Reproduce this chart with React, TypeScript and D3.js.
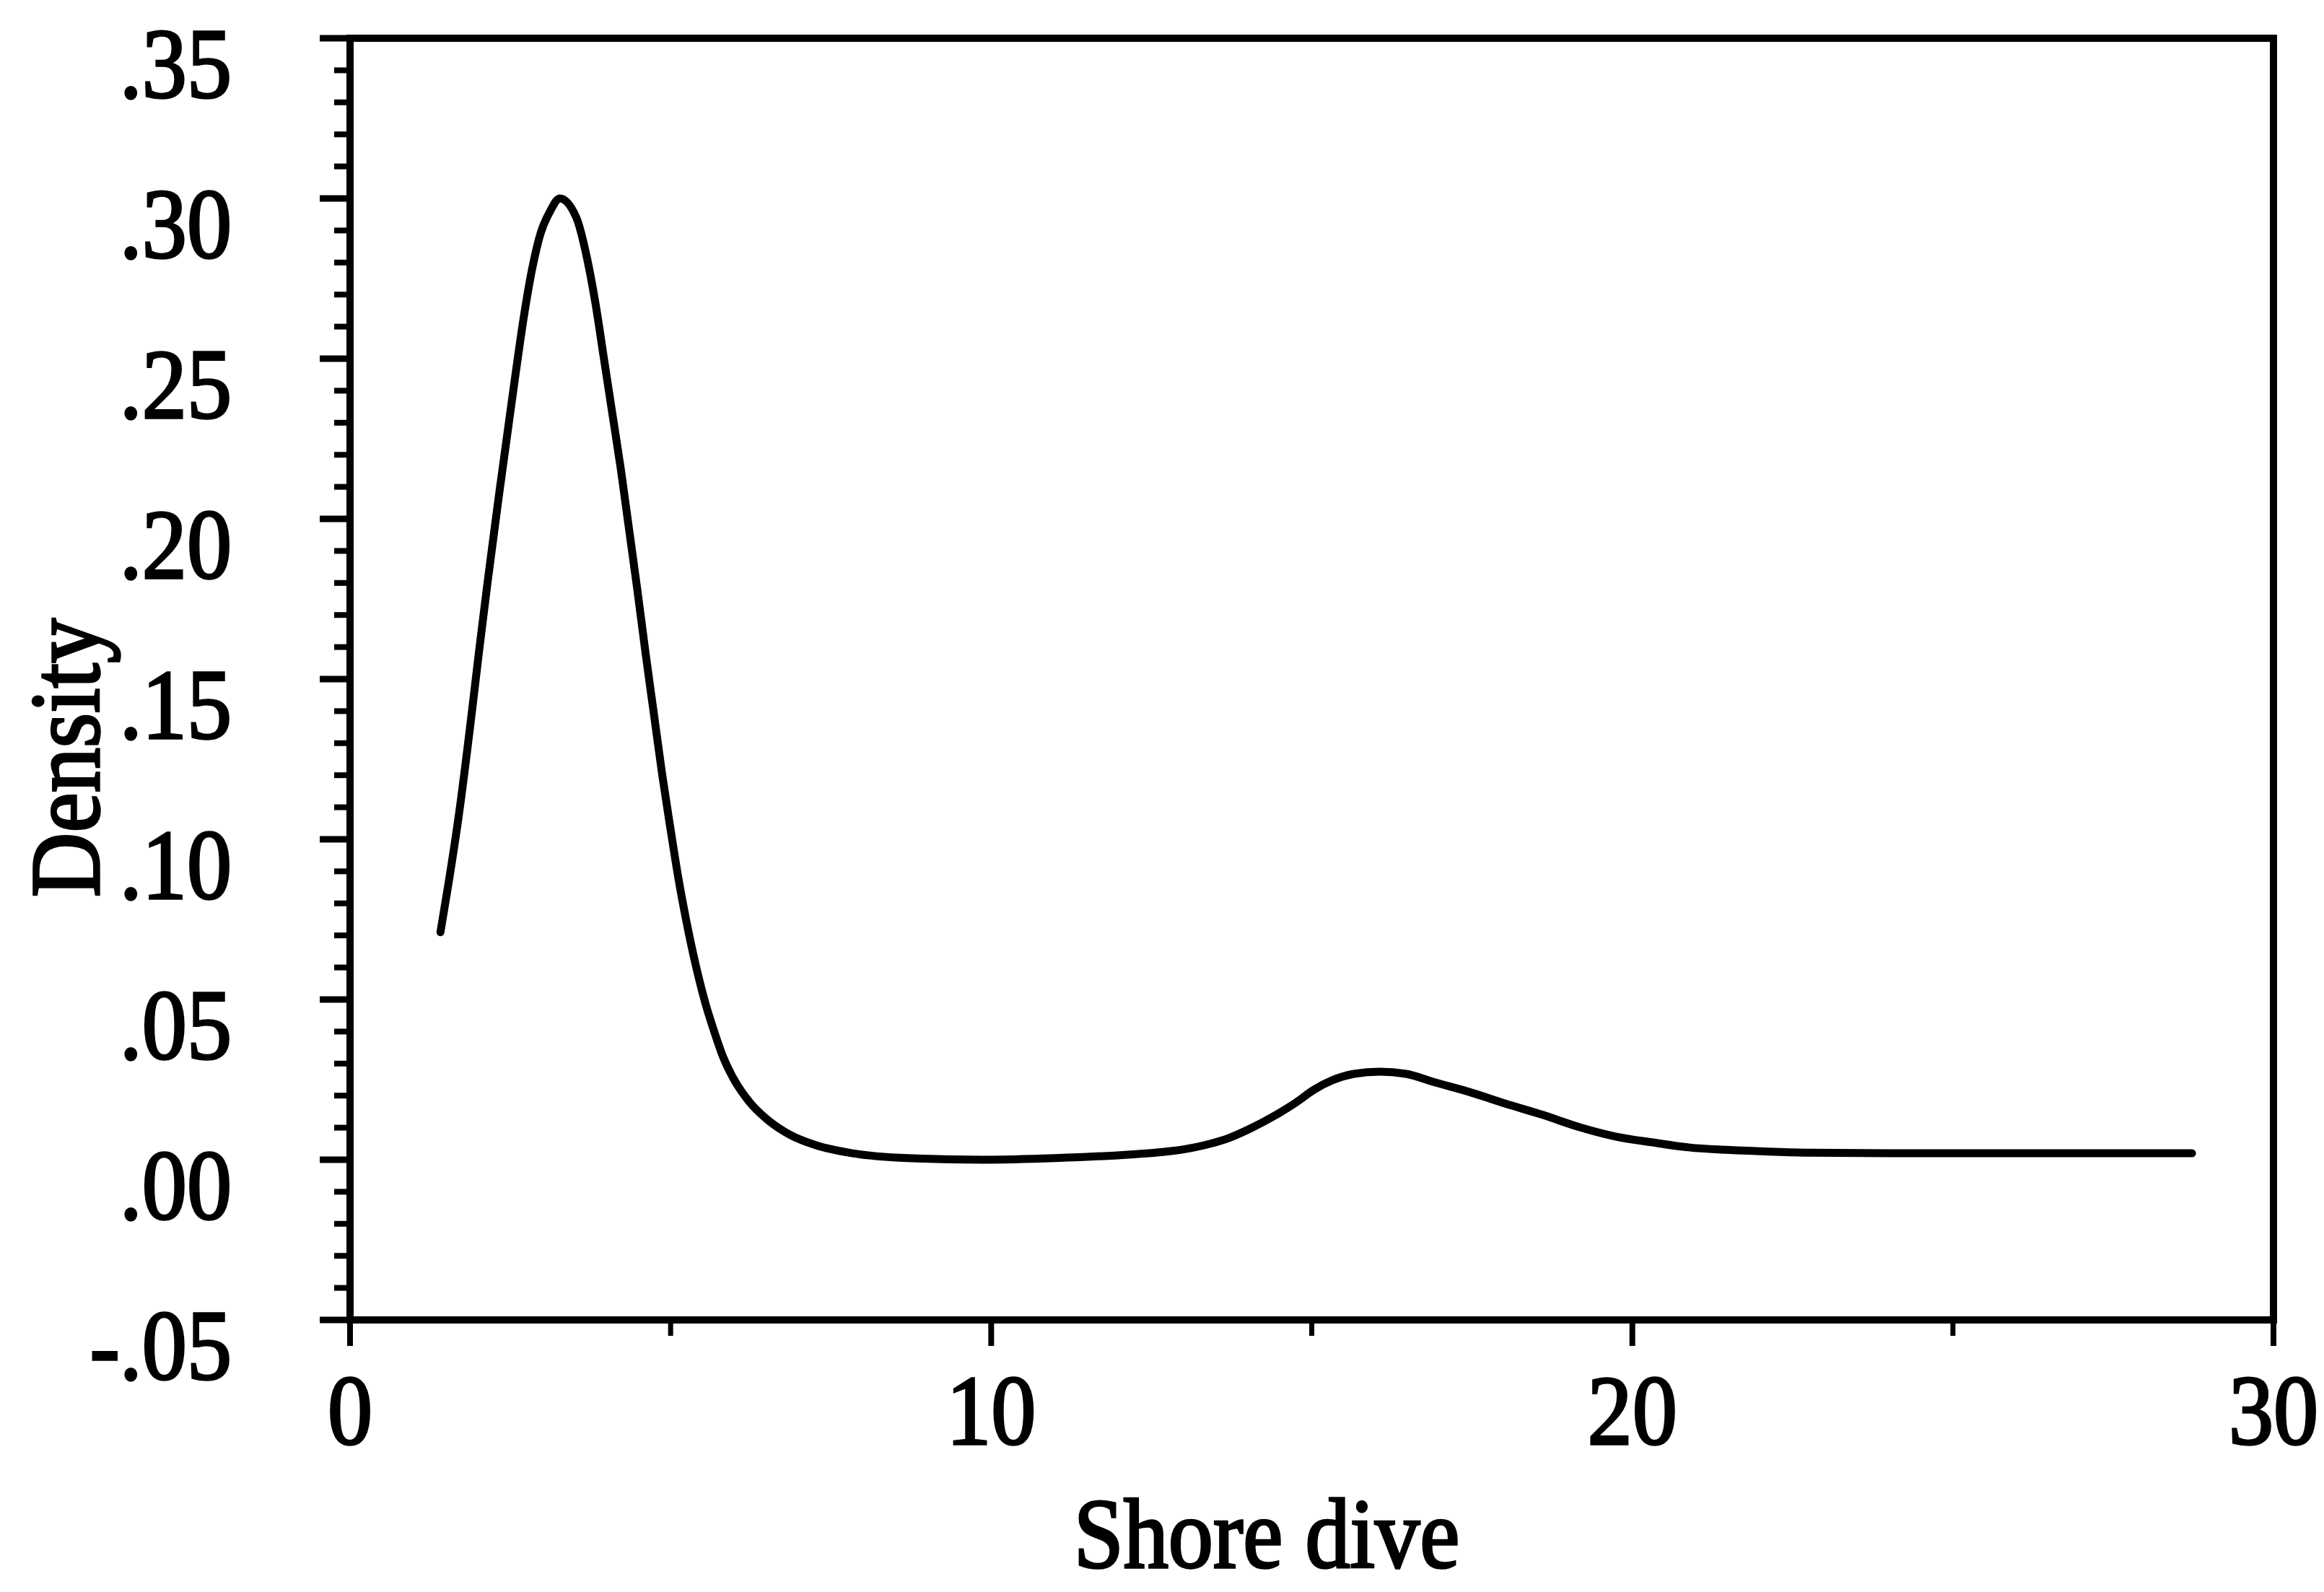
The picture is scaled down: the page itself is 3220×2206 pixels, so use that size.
import React from "react";
import * as d3 from "d3";

// Kernel density curve
const shoreDive = [1.41,1.55,1.70,1.89,2.02,2.15,2.32,2.45,2.58,2.71,2.84,2.97,3.12,3.27,3.53,3.70,3.83,3.96,4.09,4.22,4.35,4.48,4.61,4.74,4.87,5.00,5.12,5.25,5.40,5.54,5.68,5.82,5.99,6.23,6.51,6.86,7.27,7.84,8.70,9.85,11.0,12.14,12.56,13.02,13.42,13.71,14.06,14.40,14.75,15.03,15.32,15.66,16.06,16.47,16.93,17.45,18.02,18.60,19.17,19.75,20.32,20.90,21.47,22.2,22.74,24,26,28.73];
const density = [0.071,0.088,0.108,0.138,0.160,0.181,0.207,0.226,0.245,0.263,0.278,0.289,0.296,0.300,0.294,0.281,0.267,0.250,0.233,0.216,0.197,0.178,0.158,0.139,0.120,0.103,0.088,0.074,0.060,0.049,0.040,0.032,0.025,0.018,0.0125,0.0078,0.0045,0.002,0.0005,0.0,0.0005,0.0016,0.0022,0.0033,0.005,0.0068,0.0099,0.0135,0.0178,0.0218,0.0248,0.0268,0.0275,0.0268,0.0241,0.0212,0.0175,0.0140,0.0102,0.0072,0.0054,0.0038,0.0031,0.0025,0.0022,0.002,0.002,0.002];

const yMajorTicks = [-0.05, 0, 0.05, 0.10, 0.15, 0.20, 0.25, 0.30, 0.35];
const yTickLabels = ["-.05", ".00", ".05", ".10", ".15", ".20", ".25", ".30", ".35"];
const xMajorTicks = [0, 10, 20, 30];
const xMinorTicks = [5, 15, 25];
const xTitle = "Shore dive";
const yTitle = "Density";

const W = 3220, H = 2206;
const FONT = "'Liberation Serif', 'Times New Roman', serif";
const FS = 138;

export default function App() {
  const x = d3.scaleLinear().domain([0, 30]).range([485, 3150]);
  const y = d3.scaleLinear().domain([-0.05, 0.35]).range([1829, 53]);
  const pts = shoreDive.map((v, i) => [v, density[i]] as [number, number]);
  const line = d3.line<[number, number]>()
    .x(d => x(d[0]))
    .y(d => y(d[1]))
    .curve(d3.curveMonotoneX);
  const yMinor = d3.range(-5, 36).map(i => i / 100);
  const x0 = x(0), yb = y(-0.05);
  const sx = 0.9;
  const txt = { fontFamily: FONT, fontSize: FS, fill: "#000", stroke: "#000", strokeWidth: 3.5 };
  return (
    <svg width={W} height={H} style={{ position: "absolute", left: 0, top: 0, background: "#fff" }}>
      <rect x={0} y={0} width={W} height={H} fill="#fff" />
      {/* frame */}
      <rect x={x(0)} y={y(0.35)} width={x(30) - x(0)} height={y(-0.05) - y(0.35)} fill="none" stroke="#000" strokeWidth={10} />
      {/* y minor ticks */}
      {yMinor.map((v, i) => (
        <line key={"ym" + i} x1={x0 - 22} x2={x0} y1={y(v)} y2={y(v)} stroke="#000" strokeWidth={8} />
      ))}
      {yMajorTicks.map((v, i) => (
        <line key={"yM" + i} x1={x0 - 42} x2={x0} y1={y(v)} y2={y(v)} stroke="#000" strokeWidth={9} />
      ))}
      {xMinorTicks.map((v, i) => (
        <line key={"xm" + i} x1={x(v)} x2={x(v)} y1={yb} y2={yb + 22} stroke="#000" strokeWidth={7} />
      ))}
      {xMajorTicks.map((v, i) => (
        <line key={"xM" + i} x1={x(v)} x2={x(v)} y1={yb} y2={yb + 36} stroke="#000" strokeWidth={8} />
      ))}
      {/* tick labels */}
      {yMajorTicks.map((v, i) => (
        <text key={"yl" + i} transform={`translate(321,${y(v) + 82}) scale(${sx},1)`} textAnchor="end" {...txt}>{yTickLabels[i]}</text>
      ))}
      {xMajorTicks.map((v, i) => (
        <text key={"xl" + i} transform={`translate(${x(v)},2001) scale(${sx},1)`} textAnchor="middle" {...txt}>{String(v)}</text>
      ))}
      {/* titles */}
      <text transform={`translate(1755,2172) scale(${sx},1)`} textAnchor="middle" {...txt}>{xTitle}</text>
      <text transform={`translate(137,1050) rotate(-90) scale(${sx},1)`} textAnchor="middle" {...txt}>{yTitle}</text>
      {/* density curve */}
      <path d={line(pts) || ""} fill="none" stroke="#000" strokeWidth={11} strokeLinejoin="round" strokeLinecap="round" />
    </svg>
  );
}
